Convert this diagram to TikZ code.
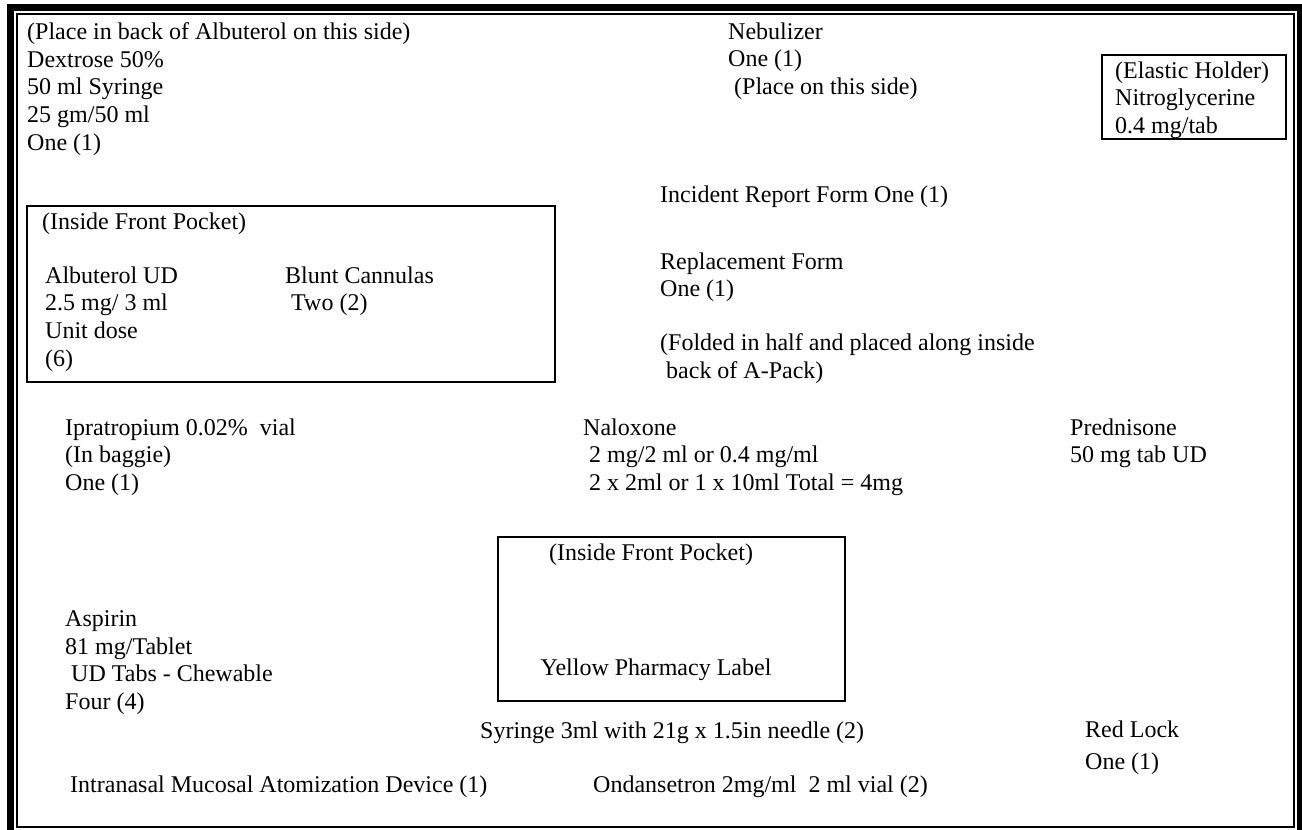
\documentclass[tikz,border=0pt]{standalone}
\usepackage{fontspec}
\setmainfont{Liberation Serif}
\begin{document}
\begin{tikzpicture}[x=1pt,y=-1pt,
  lbl/.style={inner sep=0pt,anchor=north west,align=left,font=\fontsize{24}{27.6}\selectfont},
  mid/.style={inner sep=0pt,anchor=base,font=\fontsize{24}{27.6}\selectfont},
  pocket/.style={line width=2.2pt}]
\useasboundingbox (0,0) rectangle (1302,830);
% double frame round the pack
\draw[line width=7pt] (10.5,7.5) rectangle (1300.5,833.5);
\draw[line width=2pt] (17,14) rectangle (1294,826.5);
% top row
\node[lbl] (dextrose) at (27,22.5) {(Place in back of Albuterol on this side)\\Dextrose 50\%\\50 ml Syringe\\25 gm/50 ml\\One (1)};
\node[lbl] (nebul) at (728,22.5) {Nebulizer\\One (1)\\~(Place on this side)};
\draw[pocket] (1102,55) rectangle (1286,139);
\node[lbl] (nitro) at (1115,61.5) {(Elastic Holder)\\Nitroglycerine\\0.4 mg/tab};
% forms
\node[lbl] (incident) at (660,186) {Incident Report Form One (1)};
\node[lbl] (replace) at (660,252.5) {Replacement Form\\One (1)};
\node[lbl] (folded) at (660,333.5) {(Folded in half and placed along inside\\~back of A-Pack)};
% first front pocket
\draw[pocket] (27,206) rectangle (555,382);
\node[lbl] (pocketA) at (42,212.5) {(Inside Front Pocket)};
\node[lbl] (albuterol) at (45,266.5) {Albuterol UD\\2.5 mg/ 3 ml\\Unit dose\\(6)};
\node[lbl] (cannula) at (285,266.5) {Blunt Cannulas\\~Two (2)};
% middle row
\node[lbl] (ipratrop) at (65,418.5) {Ipratropium 0.02\%~ vial\\(In baggie)\\One (1)};
\node[lbl] (naloxone) at (583,418.5) {Naloxone\\~2 mg/2 ml or 0.4 mg/ml\\~2 x 2ml or 1 x 10ml Total = 4mg};
\node[lbl] (prednis) at (1070,418.5) {Prednisone\\50 mg tab UD};
% second front pocket
\draw[pocket] (498,537) rectangle (845,701);
\node[mid] (pocketB) at (651,560) {(Inside Front Pocket)};
\node[mid] (yellow) at (656,675) {Yellow Pharmacy Label};
% bottom rows
\node[lbl] (aspirin) at (65,610.5) {Aspirin\\81 mg/Tablet\\~UD Tabs - Chewable\\Four (4)};
\node[lbl] (syringe) at (480,721.5) {Syringe 3ml with 21g x 1.5in needle (2)};
\node[lbl] (redlock) at (1085,721) {Red Lock\\[4pt]One (1)};
\node[lbl] (atomizer) at (70,775.5) {Intranasal Mucosal Atomization Device (1)};
\node[lbl] (ondans) at (593,775.5) {Ondansetron 2mg/ml\hspace{12pt}2 ml vial (2)};
\end{tikzpicture}
\end{document}
